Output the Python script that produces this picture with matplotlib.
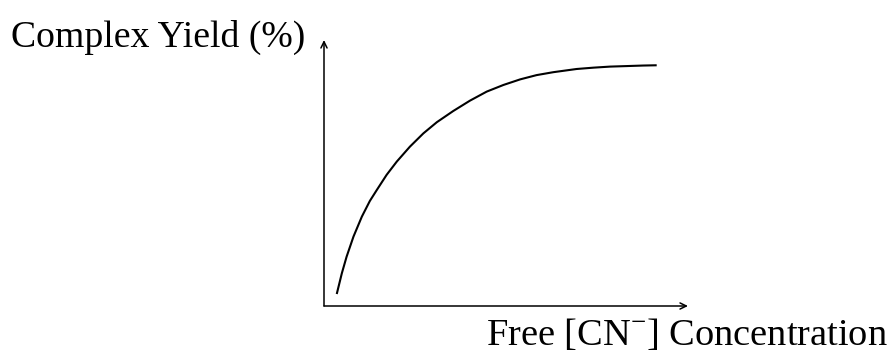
import matplotlib.pyplot as plt

plt.rcParams["font.family"] = ["Liberation Serif", "DejaVu Serif"]
plt.rcParams["mathtext.fontset"] = "custom"
plt.rcParams["mathtext.rm"] = "Liberation Serif"

# curve (arbitrary units, axis runs 0..10)
conc = [0.35, 0.49, 0.62, 0.81, 1.04, 1.26, 1.45, 1.72, 2.00, 2.36, 2.73,
        3.10, 3.55, 4.01, 4.47, 4.93, 5.39, 5.84, 6.30, 6.94, 7.40, 7.86,
        8.32, 8.77, 9.14]
yield_pct = [0.45, 1.23, 1.85, 2.61, 3.36, 3.95, 4.36, 4.93, 5.43, 5.99, 6.49,
             6.91, 7.33, 7.72, 8.06, 8.31, 8.52, 8.68, 8.79, 8.91, 8.96, 9.00,
             9.02, 9.04, 9.05]

xlabel = "Free [CN$^{-}$] Concentration"
ylabel = "Complex Yield (%)"

W, H = 895, 352
fig = plt.figure(figsize=(W / 100, H / 100), dpi=100)
ax = fig.add_axes([324 / W, (H - 306) / H, 364 / W, 266 / H])

ax.plot(conc, yield_pct, color="black", lw=1.5, solid_capstyle="butt",
        solid_joinstyle="round")
ax.set_xlim(0, 10)
ax.set_ylim(0, 10)
ax.axis("off")

# axes drawn as arrows
arrow = dict(arrowstyle="->,head_length=0.45,head_width=0.22", color="black",
             lw=1.1, shrinkA=0, shrinkB=0)
ax.annotate("", xy=(1, 0), xytext=(0, 0), xycoords="axes fraction",
            arrowprops=arrow, annotation_clip=False)
ax.annotate("", xy=(0, 1), xytext=(0, 0), xycoords="axes fraction",
            arrowprops=arrow, annotation_clip=False)

fig.text(11 / W, (H - 47) / H, ylabel, fontsize=27.2, va="baseline", ha="left")
fig.text(888 / W, (H - 345) / H, xlabel, fontsize=27.6, va="baseline", ha="right")

plt.savefig("out.png", dpi=100)
plt.close()
